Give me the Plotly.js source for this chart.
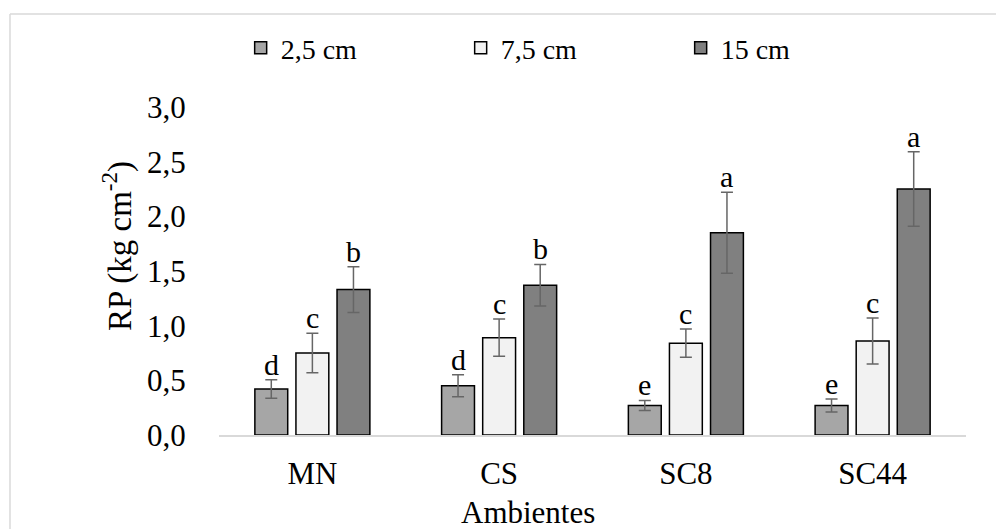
<!DOCTYPE html>
<html>
<head>
<meta charset="utf-8">
<script src="https://cdn.plot.ly/plotly-3.0.1.min.js"></script>
<style>html,body{margin:0;padding:0;background:#fff;}#chart{width:996px;height:529px;}</style>
</head>
<body>
<div id="chart"></div>
<script>
const categories = ["MN", "CS", "SC8", "SC44"];
const seriesNames = ["2,5 cm", "7,5 cm", "15 cm"];
const means25 = [0.42, 0.45, 0.27, 0.27];
const means75 = [0.75, 0.89, 0.84, 0.86];
const means15 = [1.33, 1.37, 1.85, 2.25];
const err25 = [0.085, 0.10, 0.046, 0.06];
const err75 = [0.18, 0.17, 0.13, 0.21];
const err15 = [0.21, 0.19, 0.37, 0.34];
const letters25 = ["d", "d", "e", "e"];
const letters75 = ["c", "c", "c", "c"];
const letters15 = ["b", "b", "a", "a"];
const yTicks = [0, 0.5, 1.0, 1.5, 2.0, 2.5, 3.0];

const colors = ["#a6a6a6", "#f2f2f2", "#808080"];
const means = [means25, means75, means15];
const errs = [err25, err75, err15];
const letters = [letters25, letters75, letters15];
const FONT = "Liberation Serif";

const traces = seriesNames.map((name, i) => ({
  type: "bar",
  name: name,
  x: categories,
  y: means[i],
  marker: {color: colors[i], line: {color: "#000000", width: 1.5}},
  error_y: {type: "data", array: errs[i], visible: true, color: "#666666", thickness: 1.5, width: 6}
}));

const annotations = [];
const shifts = [-41, 0, 41];
for (let i = 0; i < 3; i++) {
  for (let j = 0; j < categories.length; j++) {
    annotations.push({
      x: categories[j], y: means[i][j] + errs[i][j], xref: "x", yref: "y",
      text: letters[i][j], showarrow: false, xshift: shifts[i], yanchor: "bottom", yshift: -3,
      font: {family: FONT, size: 30, color: "#000"}
    });
  }
}
annotations.push({
  text: "Ambientes", xref: "paper", yref: "paper", x: 0.4137, y: -0.235,
  xanchor: "center", yanchor: "middle", showarrow: false,
  font: {family: FONT, size: 31, color: "#000"}
});
annotations.push({
  text: "RP (kg cm<sup>-2</sup>)", xref: "paper", yref: "paper", x: -0.1365, y: 0.576,
  xanchor: "center", yanchor: "middle", textangle: -90, showarrow: false,
  font: {family: FONT, size: 33, color: "#000"}
});

const layout = {
  width: 996, height: 529,
  margin: {l: 219, r: 30, t: 107, b: 94},
  paper_bgcolor: "#ffffff", plot_bgcolor: "#ffffff",
  separators: ",.",
  font: {family: FONT, color: "#000"},
  barmode: "group", bargap: 0.34, bargroupgap: 0.2,
  showlegend: true,
  legend: {
    orientation: "h", x: 0.029, y: 1.18, xanchor: "left", yanchor: "middle",
    entrywidth: 175, entrywidthmode: "pixels",
    font: {family: FONT, size: 28, color: "#000"}, bgcolor: "rgba(0,0,0,0)"
  },
  xaxis: {
    type: "category", showgrid: false, zeroline: false,
    showline: true, linecolor: "#d9d9d9", linewidth: 1.5,
    ticks: "outside", ticklen: 10, tickcolor: "rgba(0,0,0,0)",
    tickfont: {family: FONT, size: 31, color: "#000"}
  },
  yaxis: {
    range: [0, 3.0], tickvals: yTicks, tickformat: ".1f",
    showgrid: false, zeroline: false, showline: false,
    ticks: "outside", ticklen: 26, tickcolor: "rgba(0,0,0,0)",
    tickfont: {family: FONT, size: 31, color: "#000"}
  },
  annotations: annotations,
  shapes: [
    {type: "line", xref: "paper", yref: "paper", x0: -0.2798, x1: 1.2, y0: 1.2835, y1: 1.2835, line: {color: "#d9d9d9", width: 1.5}},
    {type: "line", xref: "paper", yref: "paper", x0: -0.2798, x1: -0.2798, y0: 1.2835, y1: -0.5, line: {color: "#d9d9d9", width: 1.5}}
  ]
};

Plotly.newPlot("chart", traces, layout, {displayModeBar: false, staticPlot: true});
</script>
</body>
</html>
